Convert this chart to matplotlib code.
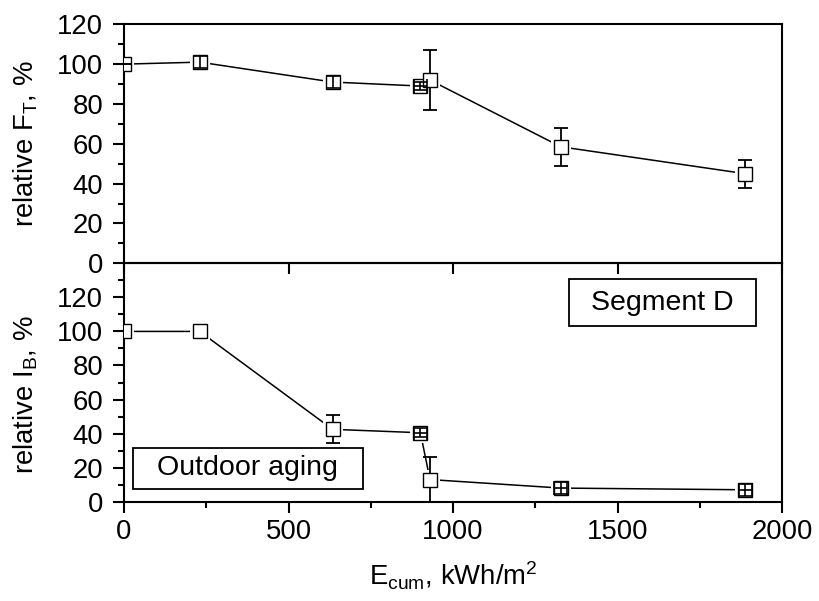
import numpy as np
import matplotlib
matplotlib.use("Agg")
import matplotlib.pyplot as plt
from matplotlib.ticker import FixedLocator, NullLocator
from matplotlib.patches import Rectangle

plt.rcParams["font.family"] = ["Liberation Sans", "DejaVu Sans"]
plt.rcParams["mathtext.fontset"] = "custom"
plt.rcParams["mathtext.rm"] = "Liberation Sans"
plt.rcParams["mathtext.it"] = "Liberation Sans:italic"
plt.rcParams["mathtext.bf"] = "Liberation Sans:bold"

# Cumulative irradiation dose (kWh/m^2)
e_cum = [0, 230, 634, 901, 930, 1328, 1888]

# Relative F_T (%) with uncertainties
ft_val = [100, 101, 91, 89, 92, 58.5, 45]
ft_err = [0, 3, 3, 2, 15, 9.5, 7]
ft_xerr = [0, 0, 0, 20, 0, 0, 0]

# Relative I_B (%) with uncertainties
ib_val = [100, 100, 42.5, 40.5, 13, 8, 7]
ib_err = [np.nan, np.nan, 8.3, 2.5, 13.2, 3.5, 3.5]
ib_xerr = [0, 0, 0, 20, 0, 20, 20]

x_ticks = [0, 500, 1000, 1500, 2000]
y_ticks = [0, 20, 40, 60, 80, 100, 120]

W, H = 819, 601
fig = plt.figure(figsize=(W / 100, H / 100), dpi=100)
left, right = 124, 782
top1, mid, bot2 = 24.3, 263.3, 501.7
ax1 = fig.add_axes([left / W, 1 - mid / H, (right - left) / W, (mid - top1) / H])
ax2 = fig.add_axes([left / W, 1 - bot2 / H, (right - left) / W, (bot2 - mid) / H])
ax2.set_facecolor("none")

FS = 19.8
MS = 9.4
LW_SPINE = 1.5


def style_axes(ax):
    for s in ax.spines.values():
        s.set_linewidth(LW_SPINE)
    ax.tick_params(which="both", direction="out", width=1.5, top=False, right=False,
                   labelsize=FS)
    ax.tick_params(which="major", length=8)
    ax.tick_params(which="minor", length=4.5)
    ax.tick_params(axis="y", pad=7)
    ax.tick_params(axis="x", pad=4.5)


def draw_series(ax, x, y, yerr, xerr, ylim):
    x = np.asarray(x, float)
    y = np.asarray(y, float)
    yerr = np.asarray(yerr, float)
    xerr = np.asarray(xerr, float)
    ax.set_xlim(0, 2000)
    ax.set_ylim(*ylim)
    h_px = ax.get_position().height * H
    err_px = np.nan_to_num(yerr) / (ylim[1] - ylim[0]) * h_px
    inner = err_px <= 6.5
    has_err = ~np.isnan(yerr)

    ax.plot(x, y, color="k", lw=1.1, zorder=1)
    # white halo keeps the connecting line clear of the symbols
    ax.plot(x, y, ls="none", marker="s", ms=MS + 5, mfc="white", mec="white",
            mew=0, zorder=2)
    big = has_err & ~inner
    if big.any():
        ax.errorbar(x[big], y[big], yerr=yerr[big], fmt="none", ecolor="k",
                    elinewidth=1.3, capsize=4.7, capthick=1.3, zorder=2.6)
    ax.plot(x, y, ls="none", marker="s", ms=MS, mfc="white", mec="k", mew=1.0,
            zorder=3)
    small = has_err & inner
    if small.any():
        xe = xerr[small]
        ax.errorbar(x[small], y[small], yerr=yerr[small],
                    xerr=np.where(xe > 0, xe, np.nan), fmt="none", ecolor="k",
                    elinewidth=1.2, capsize=4.7, capthick=1.2, zorder=4)


draw_series(ax1, e_cum, ft_val, ft_err, ft_xerr, (0, 120))
draw_series(ax2, e_cum, ib_val, ib_err, ib_xerr, (0, 140))

for ax in (ax1, ax2):
    style_axes(ax)
    ax.yaxis.set_major_locator(FixedLocator(y_ticks))
    ax.xaxis.set_major_locator(FixedLocator(x_ticks))

ax1.yaxis.set_minor_locator(FixedLocator(np.arange(10, 120, 20)))
ax1.xaxis.set_minor_locator(NullLocator())
ax1.tick_params(axis="x", labelbottom=False)

ax2.yaxis.set_minor_locator(FixedLocator(np.arange(10, 140, 20)))
ax2.xaxis.set_minor_locator(FixedLocator(np.arange(250, 2000, 500)))

ax1.set_ylabel(r"relative F$_\mathrm{T}$, %", fontsize=FS)
ax2.set_ylabel(r"relative I$_\mathrm{B}$, %", fontsize=FS)
ax1.yaxis.set_label_coords(-0.128, 0.5)
ax2.yaxis.set_label_coords(-0.128, 0.45)
ax2.set_xlabel(r"E$_\mathrm{cum}$, kWh/m$^\mathrm{2}$", fontsize=FS)
ax2.xaxis.set_label_coords(0.5, -0.245)


def boxed_label(ax, x0, y0, x1, y1, text):
    ax.add_patch(Rectangle((x0, y0), x1 - x0, y1 - y0, transform=ax.transAxes,
                           fc="white", ec="k", lw=1.3, zorder=5))
    ax.text((x0 + x1) / 2, (y0 + y1) / 2, text, transform=ax.transAxes,
            ha="center", va="center", fontsize=20.5, zorder=6)


boxed_label(ax2, 0.676, 0.737, 0.960, 0.934, "Segment D")
boxed_label(ax2, 0.0137, 0.0535, 0.363, 0.227, "Outdoor aging")

fig.savefig("out.png", dpi=100)
